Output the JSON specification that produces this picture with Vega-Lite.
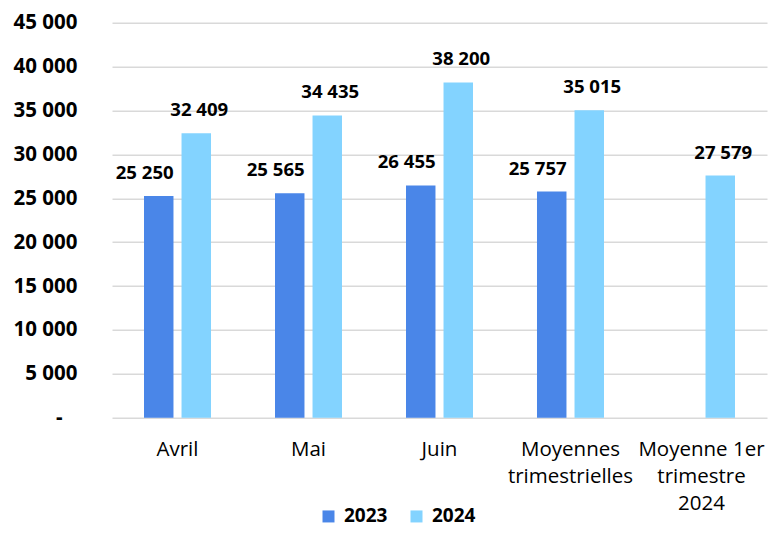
{
  "$schema": "https://vega.github.io/schema/vega-lite/v6.json",
  "width": 655,
  "height": 395,
  "autosize": {"type": "none"},
  "padding": {"left": 112, "top": 22.7, "right": 1, "bottom": 128.3},
  "background": "white",
  "config": {
    "locale": {"number": {"decimal": ",", "thousands": " ", "grouping": [3], "currency": ["", " €"]}},
    "view": {"stroke": null},
    "font": "Open Sans"
  },
  "data": {
    "values": [
      {"categorie": "Avril", "annee": "2023", "valeur": 25250},
      {"categorie": "Avril", "annee": "2024", "valeur": 32409},
      {"categorie": "Mai", "annee": "2023", "valeur": 25565},
      {"categorie": "Mai", "annee": "2024", "valeur": 34435},
      {"categorie": "Juin", "annee": "2023", "valeur": 26455},
      {"categorie": "Juin", "annee": "2024", "valeur": 38200},
      {"categorie": "Moyennes trimestrielles", "annee": "2023", "valeur": 25757},
      {"categorie": "Moyennes trimestrielles", "annee": "2024", "valeur": 35015},
      {"categorie": "Moyenne 1er trimestre 2024", "annee": "2024", "valeur": 27579}
    ]
  },
  "encoding": {
    "x": {
      "field": "categorie", "type": "nominal", "sort": null,
      "scale": {"paddingInner": 0.4885, "paddingOuter": 0.2443},
      "axis": {
        "title": null, "labelAngle": 0, "ticks": false, "domain": false,
        "labelFont": "Open Sans", "labelFontSize": 20.5, "labelColor": "#000000",
        "labelPadding": 22, "labelLineHeight": 27, "labelBaseline": "top",
        "labelExpr": "datum.value == 'Moyennes trimestrielles' ? ['Moyennes', 'trimestrielles'] : datum.value == 'Moyenne 1er trimestre 2024' ? ['Moyenne 1er', 'trimestre', '2024'] : datum.value"
      }
    },
    "xOffset": {
      "field": "annee", "type": "nominal",
      "scale": {"domain": ["2023", "2024"], "paddingInner": 0.2145, "paddingOuter": 0}
    },
    "y": {
      "field": "valeur", "type": "quantitative",
      "scale": {"domain": [0, 45000], "nice": false},
      "axis": {
        "title": null, "values": [0, 5000, 10000, 15000, 20000, 25000, 30000, 35000, 40000, 45000],
        "format": ",d", "ticks": false, "domain": false, "labelPadding": 35,
        "labelFont": "Open Sans", "labelFontSize": 20.5, "labelFontWeight": "bold", "labelColor": "#000000",
        "gridColor": "#d9d9d9", "gridWidth": 1.5,
        "labelExpr": "datum.value == 0 ? '-\u2800' : datum.label"
      }
    }
  },
  "layer": [
    {
      "mark": {"type": "bar"},
      "encoding": {
        "color": {
          "field": "annee", "type": "nominal",
          "scale": {"domain": ["2023", "2024"], "range": ["#4A86E8", "#83D3FF"]},
          "legend": {
            "title": null, "orient": "none", "direction": "horizontal",
            "legendX": 207, "legendY": 484, "padding": 0,
            "symbolType": "square", "symbolSize": 144, "symbolStrokeWidth": 0,
            "labelFont": "Open Sans", "labelFontSize": 19, "labelFontWeight": "bold", "labelColor": "#000000",
            "labelOffset": 6, "columnPadding": 19
          }
        }
      }
    },
    {
      "transform": [{"filter": "datum.annee == '2023'"}],
      "mark": {"type": "text", "baseline": "alphabetic", "dy": -17, "dx": -14, "font": "Open Sans", "fontSize": 18.6, "fontWeight": "bold", "color": "#000000"},
      "encoding": {"text": {"field": "valeur", "type": "quantitative", "format": ",d"}}
    },
    {
      "transform": [{"filter": "datum.annee == '2024'"}],
      "mark": {"type": "text", "baseline": "alphabetic", "dy": -17, "dx": 3, "font": "Open Sans", "fontSize": 18.6, "fontWeight": "bold", "color": "#000000"},
      "encoding": {"text": {"field": "valeur", "type": "quantitative", "format": ",d"}}
    }
  ]
}
